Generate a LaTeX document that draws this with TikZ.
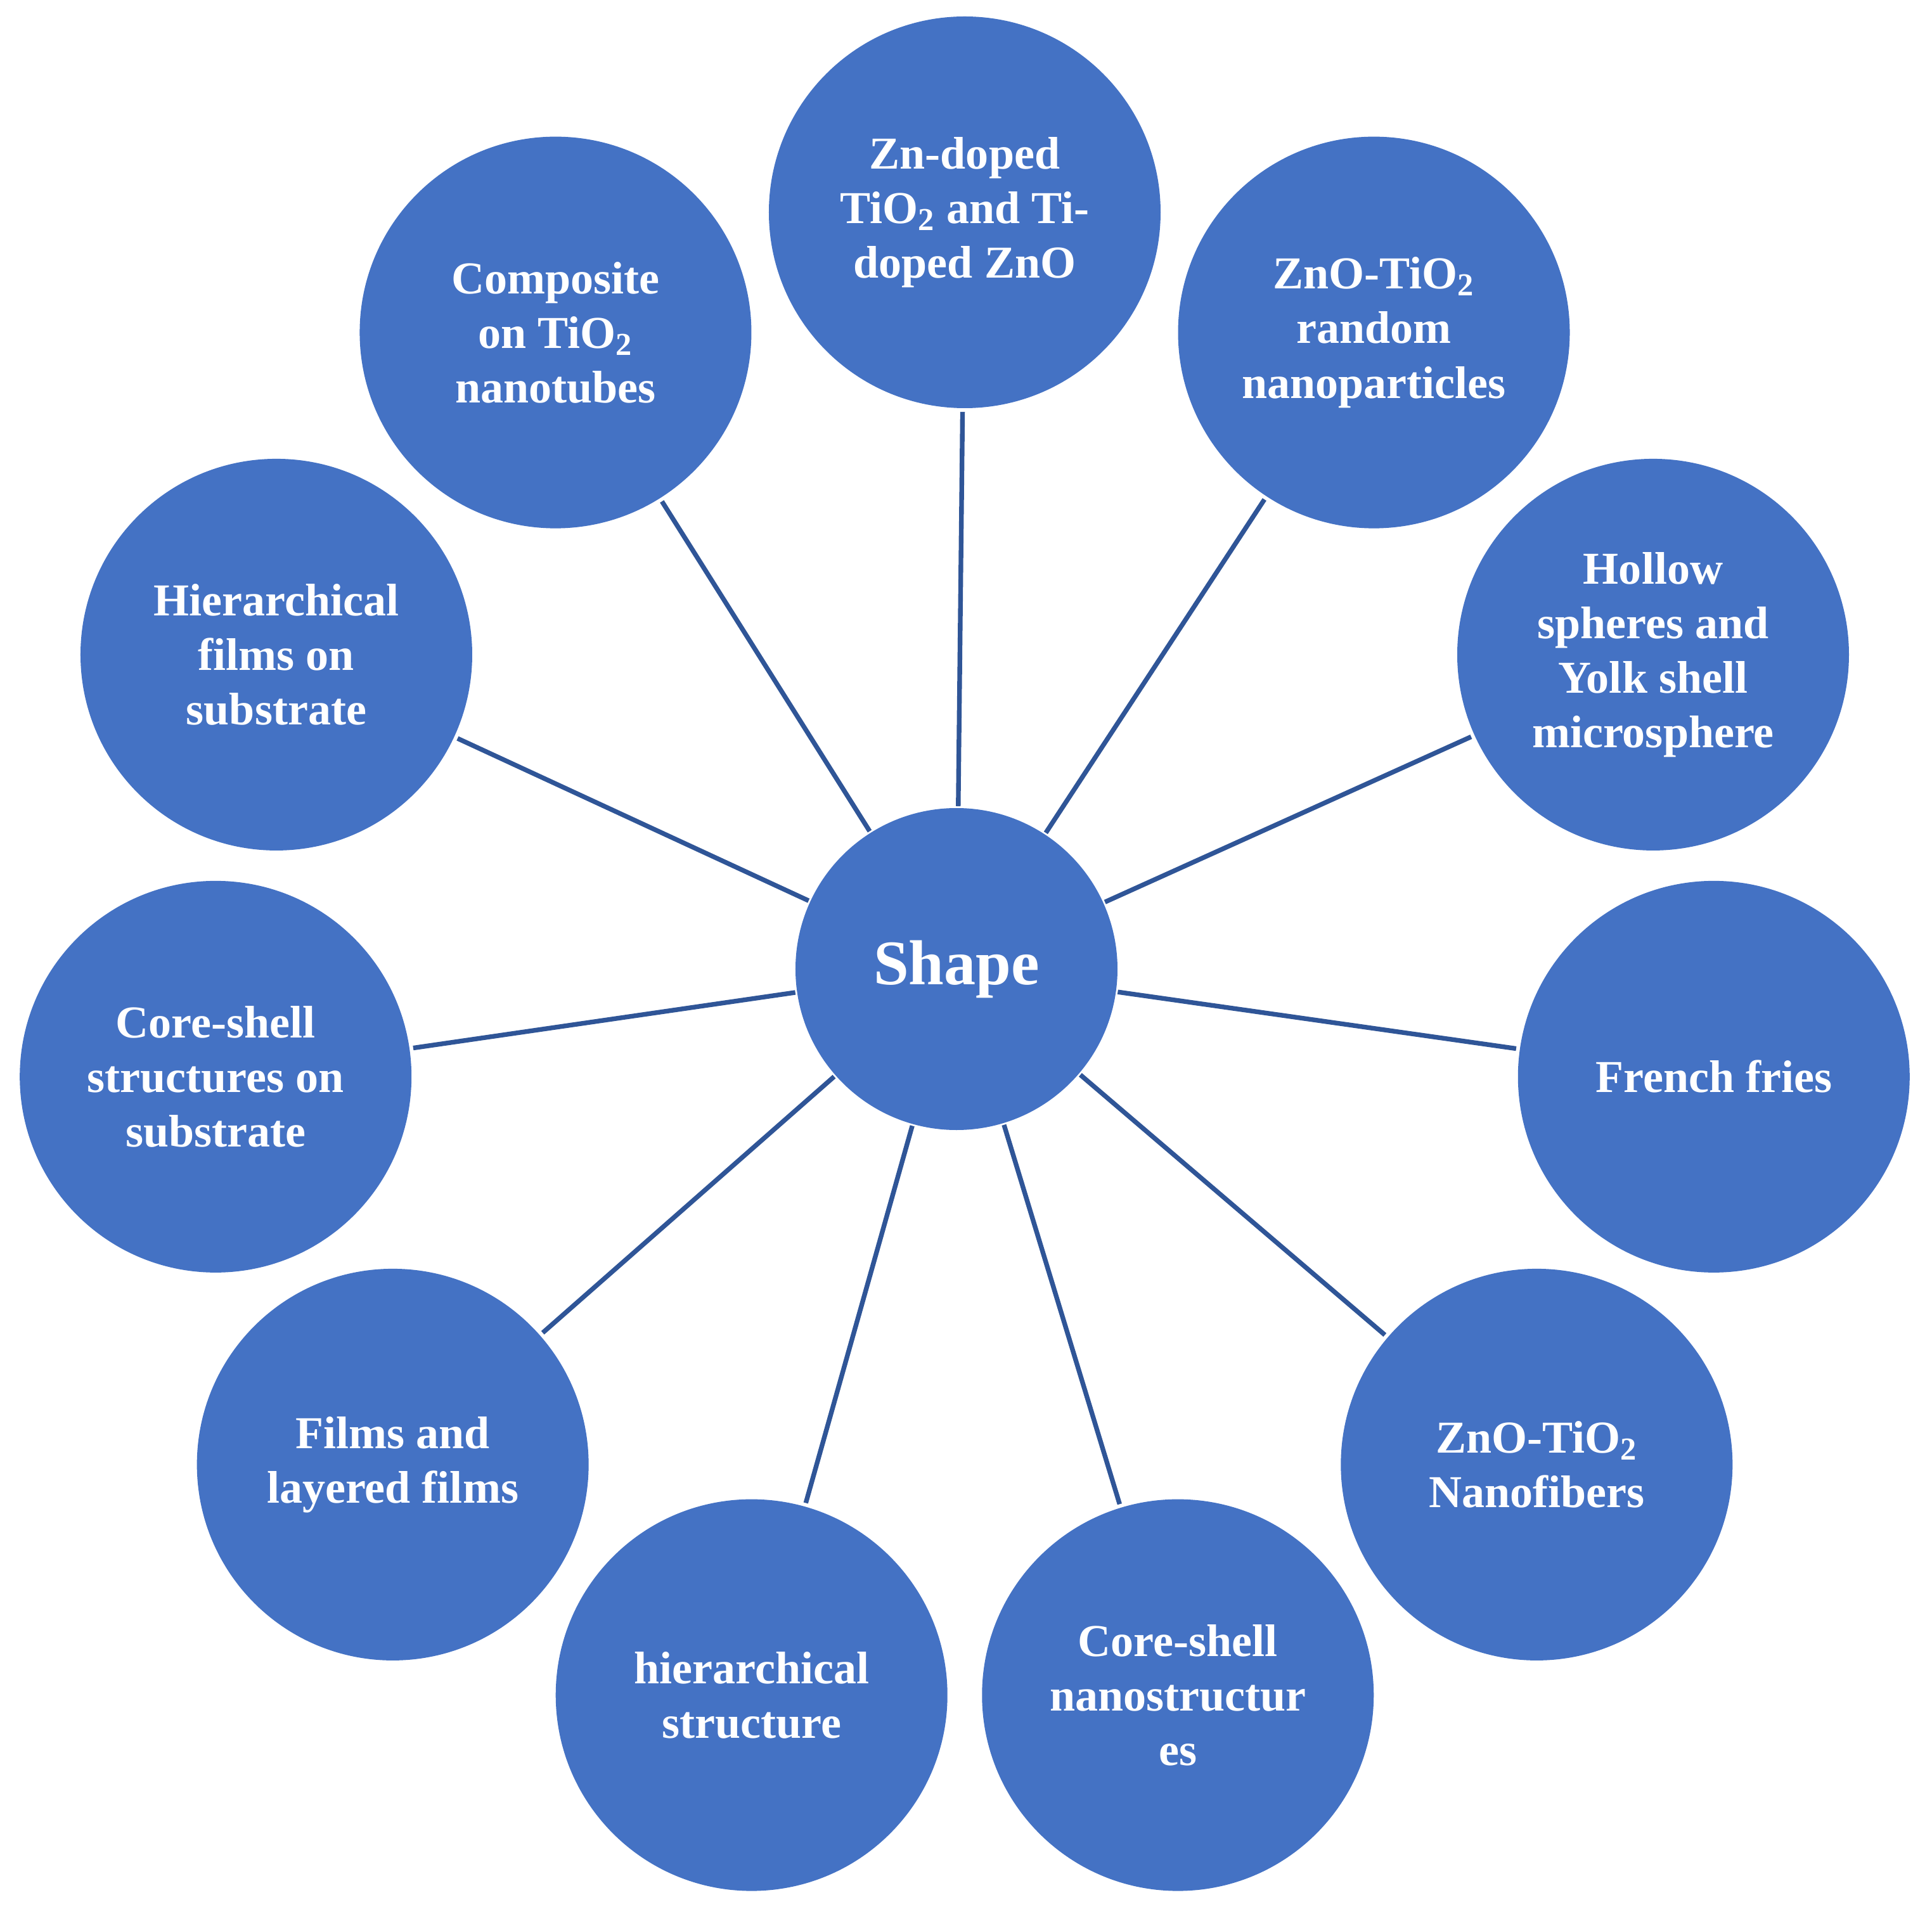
\documentclass[tikz,border=0pt]{standalone}
\usepackage{xcolor}
\usepackage{fontspec}
\setmainfont{Liberation Serif}
\usepackage{tikz}
\usetikzlibrary{positioning}
\definecolor{smartblue}{HTML}{4472C4}
\definecolor{linkblue}{HTML}{2F5597}

\begin{document}
\begin{tikzpicture}[every node/.style={text=white, font=\bfseries\fontsize{20.5}{24.5}\selectfont},
  sat/.style={circle, fill=smartblue, minimum size=6.18cm, inner sep=0pt, outer sep=0.06cm, align=center},
  hub/.style={circle, fill=smartblue, minimum size=5.08cm, inner sep=0pt, outer sep=0.03cm, font=\bfseries\fontsize{28.5}{34}\selectfont},
  link/.style={draw=linkblue, line width=2.1pt}]
\useasboundingbox (-15.22,-14.90) rectangle (15.26,15.29);
\node[hub] (shape) at (-0.13,0) {Shape};

\node[sat] (zndoped) at (90:11.94) {Zn-doped\\TiO\textsubscript{2} and Ti-\\doped ZnO};
\node[sat] (random) at (57.27:11.94) {ZnO-TiO\textsubscript{2}\\random\\nanoparticles};
\node[sat] (hollow) at (24.55:11.94) {Hollow\\spheres and\\Yolk shell\\microsphere};
\node[sat] (fries) at (-8.18:11.94) {French fries};
\node[sat] (fibers) at (-40.91:11.94) {ZnO-TiO\textsubscript{2}\\Nanofibers};
\node[sat] (coreshell) at (-73.64:11.94) {Core-shell\\nanostructur\\es};
\node[sat] (hierstruct) at (-106.36:11.94) {hierarchical\\structure};
\node[sat] (films) at (-139.09:11.94) {Films and\\layered films};
\node[sat] (coresub) at (-171.82:11.94) {Core-shell\\structures on\\substrate};
\node[sat] (hierfilms) at (155.45:11.94) {Hierarchical\\films on\\substrate};
\node[sat] (composite) at (122.73:11.94) {Composite\\on TiO\textsubscript{2}\\nanotubes};

%% spokes
\draw[link] (shape) -- (zndoped);
\draw[link] (shape) -- (random);
\draw[link] (shape) -- (hollow);
\draw[link] (shape) -- (fries);
\draw[link] (shape) -- (fibers);
\draw[link] (shape) -- (coreshell);
\draw[link] (shape) -- (hierstruct);
\draw[link] (shape) -- (films);
\draw[link] (shape) -- (coresub);
\draw[link] (shape) -- (hierfilms);
\draw[link] (shape) -- (composite);
\end{tikzpicture}
\end{document}
